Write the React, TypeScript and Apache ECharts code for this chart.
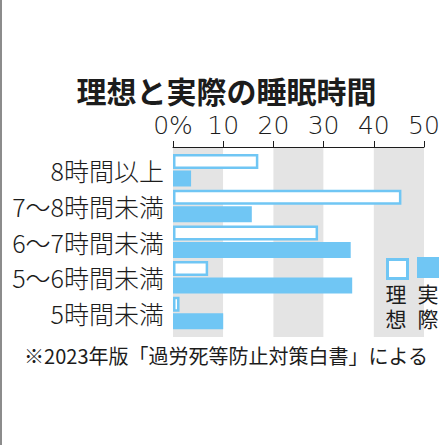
import React, { useEffect, useRef } from "react";
import * as echarts from "echarts";

const titleText = "理想と実際の睡眠時間";
const footnoteText = "※2023年版「過労死等防止対策白書」による";
const categories = ["8時間以上", "7～8時間未満", "6～7時間未満", "5～6時間未満", "5時間未満"];
const idealValues = [17.0, 45.5, 28.9, 7.0, 1.3];
const actualValues = [3.6, 15.7, 35.4, 35.7, 10.0];
const seriesNames = ["理想", "実際"];

const BLUE = "#70c6f4";
const GRAY = "#e4e4e4";
const INK = "#1c1c1c";
const JP = "'Noto Sans CJK JP', 'Noto Sans', sans-serif";

function verticalLabel(name: string, cx: number, top: number) {
  return name.split("").map((ch, i) => ({
    type: "text",
    z: 100,
    x: cx,
    y: top + i * 25,
    style: {
      text: ch,
      fill: INK,
      fontSize: 21,
      fontFamily: JP,
      align: "center",
      verticalAlign: "top",
    },
  }));
}

export default function App() {
  const ref = useRef<HTMLDivElement>(null);
  useEffect(() => {
    if (!ref.current) return;
    const chart = echarts.init(ref.current, null, { renderer: "svg" });
    const option: any = {
      animation: false,
      backgroundColor: "#ffffff",
      grid: [
        { left: 173, top: 147, width: 251, height: 190 },
        { left: 173, top: 152.4, width: 251, height: 178.5 },
      ],
      xAxis: [
        {
          gridIndex: 0,
          type: "value",
          min: 0,
          max: 50,
          interval: 10,
          position: "top",
          axisLine: { show: true, lineStyle: { color: INK, width: 1 } },
          axisTick: { show: true, length: 6, lineStyle: { color: INK, width: 1 } },
          axisLabel: {
            margin: 9,
            fontSize: 25,
            fontFamily: "'DejaVu Sans', sans-serif",
            fontWeight: 200,
            color: INK,
            formatter: (v: number) => (v === 0 ? "0%" : String(v)),
          },
          splitLine: { show: false },
          splitArea: { show: true, areaStyle: { color: [GRAY, "#ffffff"] } },
        },
        { gridIndex: 1, type: "value", min: 0, max: 50, show: false },
      ],
      yAxis: [
        { gridIndex: 0, type: "category", data: categories, show: false },
        {
          gridIndex: 1,
          type: "category",
          data: categories,
          inverse: true,
          axisLine: { show: false },
          axisTick: { show: false },
          axisLabel: {
            margin: 9,
            fontSize: 25,
            fontFamily: JP,
            fontWeight: 300,
            color: INK,
          },
        },
      ],
      legend: [
        {
          data: [seriesNames[0]],
          left: 386,
          top: 258,
          padding: 0,
          icon: "rect",
          itemWidth: 20,
          itemHeight: 19,
          selectedMode: false,
          formatter: () => "",
          itemStyle: { color: "#ffffff", borderColor: BLUE, borderWidth: 3 },
        },
        {
          data: [seriesNames[1]],
          left: 417,
          top: 257,
          padding: 0,
          icon: "rect",
          itemWidth: 22,
          itemHeight: 21,
          selectedMode: false,
          formatter: () => "",
          itemStyle: { color: BLUE, borderWidth: 0 },
        },
      ],
      series: [
        {
          name: seriesNames[0],
          type: "bar",
          xAxisIndex: 1,
          yAxisIndex: 1,
          data: idealValues,
          barWidth: 15,
          barGap: "10%",
          itemStyle: { color: "#ffffff", borderColor: BLUE, borderWidth: 2.5 },
        },
        {
          name: seriesNames[1],
          type: "bar",
          xAxisIndex: 1,
          yAxisIndex: 1,
          data: actualValues,
          barWidth: 16,
          itemStyle: { color: BLUE },
        },
      ],
      graphic: [
        { type: "rect", z: 100, left: 0, top: 0, shape: { x: 0, y: 0, width: 2, height: 445 }, style: { fill: "#8c8c8c" } },
        {
          type: "text",
          z: 100,
          x: 226.5,
          y: 90,
          style: {
            text: titleText,
            fill: INK,
            fontSize: 30,
            fontWeight: "bold",
            fontFamily: JP,
            align: "center",
            verticalAlign: "middle",
          },
        },
        {
          type: "text",
          z: 100,
          x: 226,
          y: 355,
          style: {
            text: footnoteText,
            fill: INK,
            fontSize: 20,
            fontFamily: JP,
            align: "center",
            verticalAlign: "middle",
          },
        },
        ...verticalLabel(seriesNames[0], 396, 282),
        ...verticalLabel(seriesNames[1], 428, 282),
      ],
    };
    chart.setOption(option);
    return () => chart.dispose();
  }, []);
  return (
    <div style={{ position: "fixed", left: 0, top: 0, width: 448, height: 445, background: "#fff" }}>
      <div ref={ref} style={{ width: 448, height: 445 }} />
    </div>
  );
}
